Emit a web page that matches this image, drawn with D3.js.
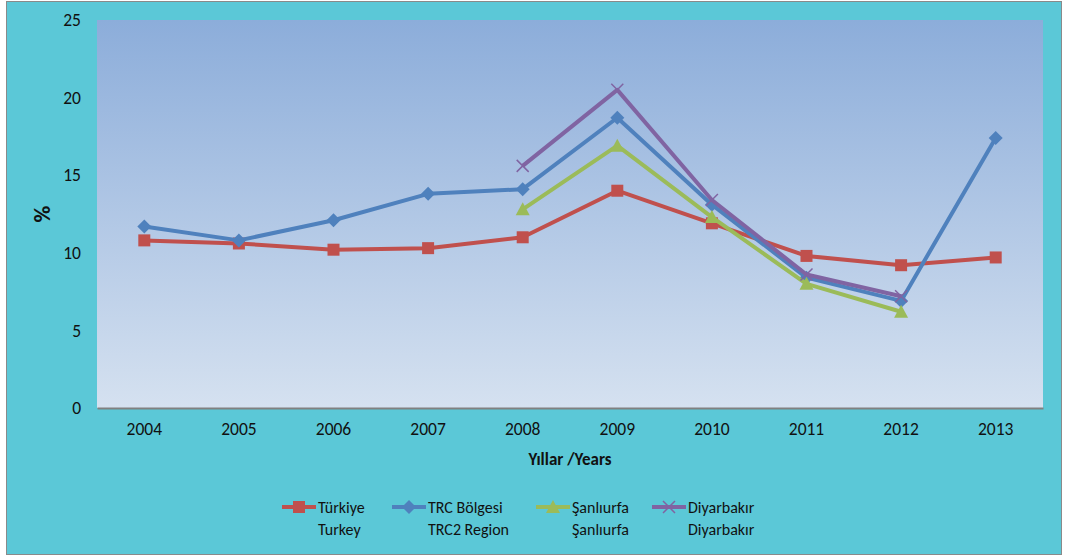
<!DOCTYPE html>
<html>
<head>
<meta charset="utf-8">
<script src="https://cdn.jsdelivr.net/npm/d3@7"></script>
<style>
  body { margin: 0; background: #fff; }
  text { font-family: Carlito, "Open Sans", "Liberation Sans", sans-serif; fill: #111; }
</style>
</head>
<body>
<svg id="chart" width="1066" height="556"></svg>
<script>
// data
const years = ["2004", "2005", "2006", "2007", "2008", "2009", "2010", "2011", "2012", "2013"];
const turkey = [10.8, 10.6, 10.2, 10.3, 11.0, 14.0, 11.9, 9.8, 9.2, 9.7];
const trc2 = [11.7, 10.8, 12.1, 13.8, 14.1, 18.7, 13.1, 8.4, 6.9, 17.4];
const sanliurfa = [null, null, null, null, 12.8, 16.9, 12.3, 8.0, 6.2, null];
const diyarbakir = [null, null, null, null, 15.6, 20.5, 13.4, 8.6, 7.2, null];
const yTicks = [0, 5, 10, 15, 20, 25];

const series = [
    { name: ["Türkiye", "Turkey"], values: turkey, color: "#C0504D", marker: "square" },
    { name: ["TRC Bölgesi", "TRC2 Region"], values: trc2, color: "#4F81BD", marker: "diamond" },
    { name: ["Şanlıurfa", "Şanlıurfa"], values: sanliurfa, color: "#9BBB59", marker: "triangle" },
    { name: ["Diyarbakır", "Diyarbakır"], values: diyarbakir, color: "#8064A2", marker: "cross" }
];

const svg = d3.select("#chart");
const margin = { left: 97, top: 20, right: 1043, bottom: 408 };

// outer background
svg.append("rect")
    .attr("x", 6.5).attr("y", 1.5)
    .attr("width", 1055).attr("height", 553)
    .attr("fill", "#5BC8D7")
    .attr("stroke", "#8a8a8a").attr("stroke-width", 1);

// plot area gradient
const defs = svg.append("defs");
const grad = defs.append("linearGradient")
    .attr("id", "plotbg").attr("x1", 0).attr("y1", 0).attr("x2", 0).attr("y2", 1);
grad.append("stop").attr("offset", "0%").attr("stop-color", "#8CADDA");
grad.append("stop").attr("offset", "100%").attr("stop-color", "#D5E1F0");

svg.append("rect")
    .attr("x", margin.left).attr("y", margin.top)
    .attr("width", margin.right - margin.left)
    .attr("height", margin.bottom - margin.top)
    .attr("fill", "url(#plotbg)");

const x = d3.scaleBand()
    .domain(years)
    .range([margin.left, margin.right]);

const y = d3.scaleLinear()
    .domain([0, 25])
    .range([margin.bottom, margin.top]);

// x axis
const xAxis = svg.append("g")
    .attr("transform", "translate(0," + margin.bottom + ")")
    .call(d3.axisBottom(x).tickSize(0).tickPadding(15));
xAxis.select(".domain").attr("stroke", "#808080").attr("stroke-width", 2);
xAxis.selectAll("text").style("font-size", "17.5px").attr("fill", "#111");

// y axis
const yAxis = svg.append("g")
    .attr("transform", "translate(" + margin.left + ",0)")
    .call(d3.axisLeft(y).tickValues(yTicks).tickSize(0).tickPadding(16));
yAxis.select(".domain").remove();
yAxis.selectAll("text").style("font-size", "17.5px").attr("fill", "#111");

// axis titles
svg.append("text")
    .attr("transform", "translate(50,214) rotate(-90)")
    .attr("text-anchor", "middle")
    .style("font-size", "23px").style("font-weight", "bold")
    .text("%");

svg.append("text")
    .attr("x", 570).attr("y", 465)
    .attr("text-anchor", "middle")
    .style("font-size", "17px").style("font-weight", "bold")
    .text("Yıllar /Years");

const cx = d => x(d) + x.bandwidth() / 2;

function drawMarker(g, type, color) {
    if (type === "square") {
        g.append("rect").attr("x", -6).attr("y", -6).attr("width", 12).attr("height", 12)
            .attr("fill", color);
    } else if (type === "diamond") {
        g.append("path").attr("d", "M0,-7L7,0L0,7L-7,0Z").attr("fill", color);
    } else if (type === "triangle") {
        g.append("path").attr("d", "M0,-7L7,6L-7,6Z").attr("fill", color);
    } else {
        g.append("path").attr("d", "M-6,-6L6,6M-6,6L6,-6")
            .attr("stroke", color).attr("stroke-width", 1.5).attr("fill", "none");
    }
}

const line = d3.line()
    .defined(d => d.v !== null)
    .x(d => cx(d.year))
    .y(d => y(d.v));

series.forEach(s => {
    const pts = years.map((yr, i) => ({ year: yr, v: s.values[i] }));
    svg.append("path")
        .datum(pts)
        .attr("d", line)
        .attr("fill", "none")
        .attr("stroke", s.color)
        .attr("stroke-width", 4)
        .attr("stroke-linejoin", "round");
    pts.filter(p => p.v !== null).forEach(p => {
        const g = svg.append("g").attr("transform", "translate(" + cx(p.year) + "," + y(p.v) + ")");
        drawMarker(g, s.marker, s.color);
    });
});

// legend
const legendX = [282, 392, 536, 652];
series.forEach((s, i) => {
    const lx = legendX[i];
    const lg = svg.append("g").attr("transform", "translate(" + lx + ",507)");
    lg.append("line").attr("x1", 0).attr("x2", 34).attr("y1", 0).attr("y2", 0)
        .attr("stroke", s.color).attr("stroke-width", 4);
    drawMarker(lg.append("g").attr("transform", "translate(17,0)"), s.marker, s.color);
    lg.append("text").attr("x", 36).attr("y", 6).style("font-size", "16px").text(s.name[0]);
    lg.append("text").attr("x", 36).attr("y", 28).style("font-size", "16px").text(s.name[1]);
});
</script>
</body>
</html>
